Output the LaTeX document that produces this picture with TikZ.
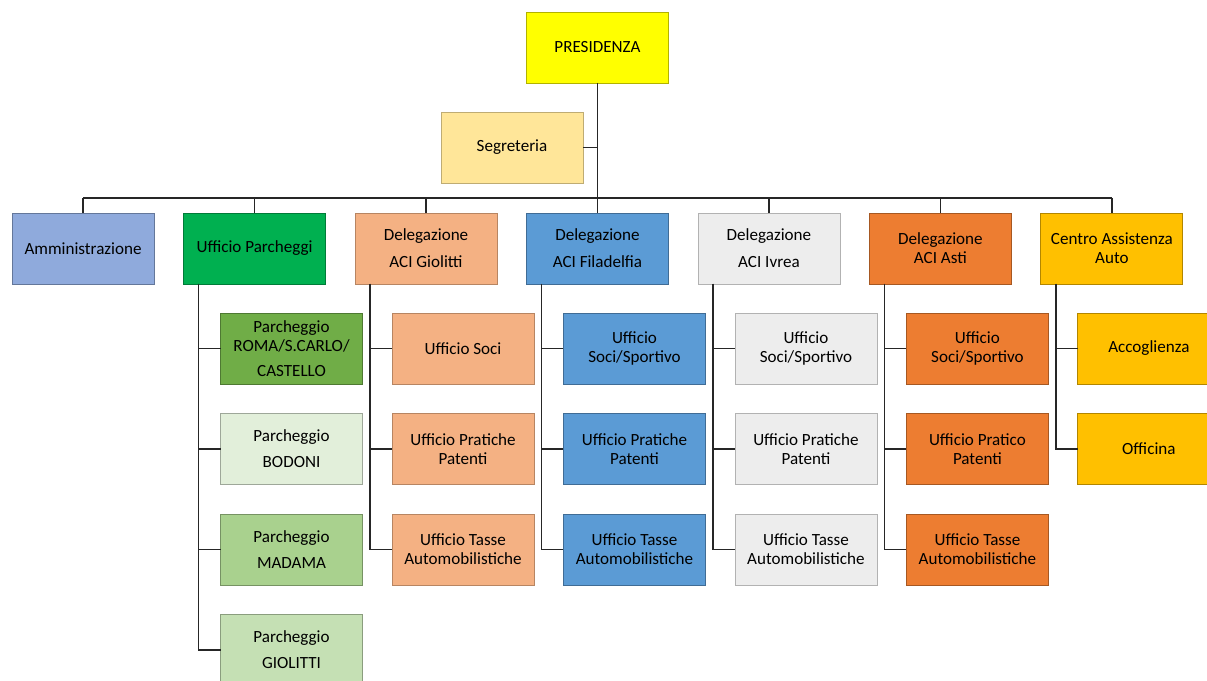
\documentclass[tikz,border=0pt]{standalone}
\usepackage{fontspec}
\setmainfont{Carlito}
\usetikzlibrary{positioning,calc}
\definecolor{orgYellow}{HTML}{FFFF00}
\definecolor{orgCream}{HTML}{FFE699}
\definecolor{orgLilac}{HTML}{8FAADC}
\definecolor{orgGreen}{HTML}{00B050}
\definecolor{orgPeach}{HTML}{F4B183}
\definecolor{orgBlue}{HTML}{5B9BD5}
\definecolor{orgGray}{HTML}{EDEDED}
\definecolor{orgOrange}{HTML}{ED7D31}
\definecolor{orgGold}{HTML}{FFC000}
\definecolor{parkA}{HTML}{70AD47}
\definecolor{parkB}{HTML}{E2EFDA}
\definecolor{parkC}{HTML}{A9D18E}
\definecolor{parkD}{HTML}{C5E0B4}

\begin{document}
\begin{tikzpicture}[
node distance=22.1pt and 22.1pt,
every node/.style={font=\fontsize{12.8}{14.5}\selectfont},
unit/.style={draw, align=center, inner sep=2pt, outer sep=0pt, minimum width=106.5pt, minimum height=53.25pt, line width=0.6pt},
link/.style={line width=1.3pt, draw=black!85}
]
\useasboundingbox (0,0) rectangle (905.25pt,-510.75pt);

% Top: presidenza and segreteria
\node[unit, draw=orgYellow!70!black, fill=orgYellow] (P0) at (448.1pt,-35.6pt) {PRESIDENZA};
\node[unit, below=21.75pt of P0, xshift=-64.1pt, draw=orgCream!75!black, fill=orgCream] (S0) {Segreteria};

% Second row
\node[unit, below=97.5pt of P0, draw=orgBlue!70!black, fill=orgBlue] (F0) {Delegazione\\[5.5pt]ACI Filadelfia};
\node[unit, left=of F0, draw=orgPeach!75!black, fill=orgPeach] (G0) {Delegazione\\[5.5pt]ACI Giolitti};
\node[unit, left=of G0, draw=orgGreen!70!black, fill=orgGreen] (U0) {Ufficio Parcheggi};
\node[unit, left=of U0, draw=orgLilac!70!black, fill=orgLilac] (A0) {Amministrazione};
\node[unit, right=of F0, draw=orgGray!75!black, fill=orgGray] (I0) {Delegazione\\[5.5pt]ACI Ivrea};
\node[unit, right=of I0, draw=orgOrange!70!black, fill=orgOrange] (T0) {Delegazione\\ACI Asti};
\node[unit, right=of T0, draw=orgGold!70!black, fill=orgGold] (C0) {Centro Assistenza\\Auto};

\draw[link] (P0) -- (F0);
\draw[link] (S0.east) -- (S0.east -| P0.south);
\draw[link] ([yshift=11.25pt]A0.north) -- ([yshift=11.25pt]C0.north);
\draw[link] ([yshift=11.25pt]A0.north) -- (A0.north); \draw[link] ([yshift=11.25pt]U0.north) -- (U0.north);
\draw[link] ([yshift=11.25pt]G0.north) -- (G0.north); \draw[link] ([yshift=11.25pt]I0.north) -- (I0.north);
\draw[link] ([yshift=11.25pt]T0.north) -- (T0.north); \draw[link] ([yshift=11.25pt]C0.north) -- (C0.north);

% Ufficio Parcheggi
\node[unit, below right=21.75pt and 27.75pt of U0.south west, anchor=north west, draw=parkA!70!black, fill=parkA] (U1) {Parcheggio\\ROMA/S.CARLO/\\[4.5pt]CASTELLO};
\node[unit, below=of U1, draw=parkB!70!black, fill=parkB] (U2) {Parcheggio\\[5pt]BODONI};
\node[unit, below=of U2, draw=parkC!70!black, fill=parkC] (U3) {Parcheggio\\[5pt]MADAMA};
\node[unit, below=of U3, draw=parkD!70!black, fill=parkD] (U4) {Parcheggio\\[5pt]GIOLITTI};
\draw[link] ([xshift=11.25pt]U0.south west) |- (U1.west); \draw[link] ([xshift=11.25pt]U0.south west) |- (U2.west);
\draw[link] ([xshift=11.25pt]U0.south west) |- (U3.west); \draw[link] ([xshift=11.25pt]U0.south west) |- (U4.west);

% Delegazione ACI Giolitti
\node[unit, below right=21.75pt and 27.75pt of G0.south west, anchor=north west, draw=orgPeach!75!black, fill=orgPeach] (G1) {Ufficio Soci};
\node[unit, below=of G1, draw=orgPeach!75!black, fill=orgPeach] (G2) {Ufficio Pratiche\\Patenti};
\node[unit, below=of G2, draw=orgPeach!75!black, fill=orgPeach] (G3) {Ufficio Tasse\\Automobilistiche};
\draw[link] ([xshift=11.25pt]G0.south west) |- (G1.west); \draw[link] ([xshift=11.25pt]G0.south west) |- (G2.west);
\draw[link] ([xshift=11.25pt]G0.south west) |- (G3.west);

% Delegazione ACI Filadelfia
\node[unit, below right=21.75pt and 27.75pt of F0.south west, anchor=north west, draw=orgBlue!70!black, fill=orgBlue] (F1) {Ufficio\\Soci/Sportivo};
\node[unit, below=of F1, draw=orgBlue!70!black, fill=orgBlue] (F2) {Ufficio Pratiche\\Patenti};
\node[unit, below=of F2, draw=orgBlue!70!black, fill=orgBlue] (F3) {Ufficio Tasse\\Automobilistiche};
\draw[link] ([xshift=11.25pt]F0.south west) |- (F1.west); \draw[link] ([xshift=11.25pt]F0.south west) |- (F2.west);
\draw[link] ([xshift=11.25pt]F0.south west) |- (F3.west);

% Delegazione ACI Ivrea
\node[unit, below right=21.75pt and 27.75pt of I0.south west, anchor=north west, draw=orgGray!75!black, fill=orgGray] (I1) {Ufficio\\Soci/Sportivo};
\node[unit, below=of I1, draw=orgGray!75!black, fill=orgGray] (I2) {Ufficio Pratiche\\Patenti};
\node[unit, below=of I2, draw=orgGray!75!black, fill=orgGray] (I3) {Ufficio Tasse\\Automobilistiche};
\draw[link] ([xshift=11.25pt]I0.south west) |- (I1.west); \draw[link] ([xshift=11.25pt]I0.south west) |- (I2.west);
\draw[link] ([xshift=11.25pt]I0.south west) |- (I3.west);

% Delegazione ACI Asti
\node[unit, below right=21.75pt and 27.75pt of T0.south west, anchor=north west, draw=orgOrange!70!black, fill=orgOrange] (T1) {Ufficio\\Soci/Sportivo};
\node[unit, below=of T1, draw=orgOrange!70!black, fill=orgOrange] (T2) {Ufficio Pratico\\Patenti};
\node[unit, below=of T2, draw=orgOrange!70!black, fill=orgOrange] (T3) {Ufficio Tasse\\Automobilistiche};
\draw[link] ([xshift=11.25pt]T0.south west) |- (T1.west); \draw[link] ([xshift=11.25pt]T0.south west) |- (T2.west);
\draw[link] ([xshift=11.25pt]T0.south west) |- (T3.west);

% Centro Assistenza Auto
\node[unit, below right=21.75pt and 27.75pt of C0.south west, anchor=north west, draw=orgGold!70!black, fill=orgGold] (C1) {Accoglienza};
\node[unit, below=of C1, draw=orgGold!70!black, fill=orgGold] (C2) {Officina};
\draw[link] ([xshift=11.25pt]C0.south west) |- (C1.west); \draw[link] ([xshift=11.25pt]C0.south west) |- (C2.west);

\end{tikzpicture}
\end{document}
